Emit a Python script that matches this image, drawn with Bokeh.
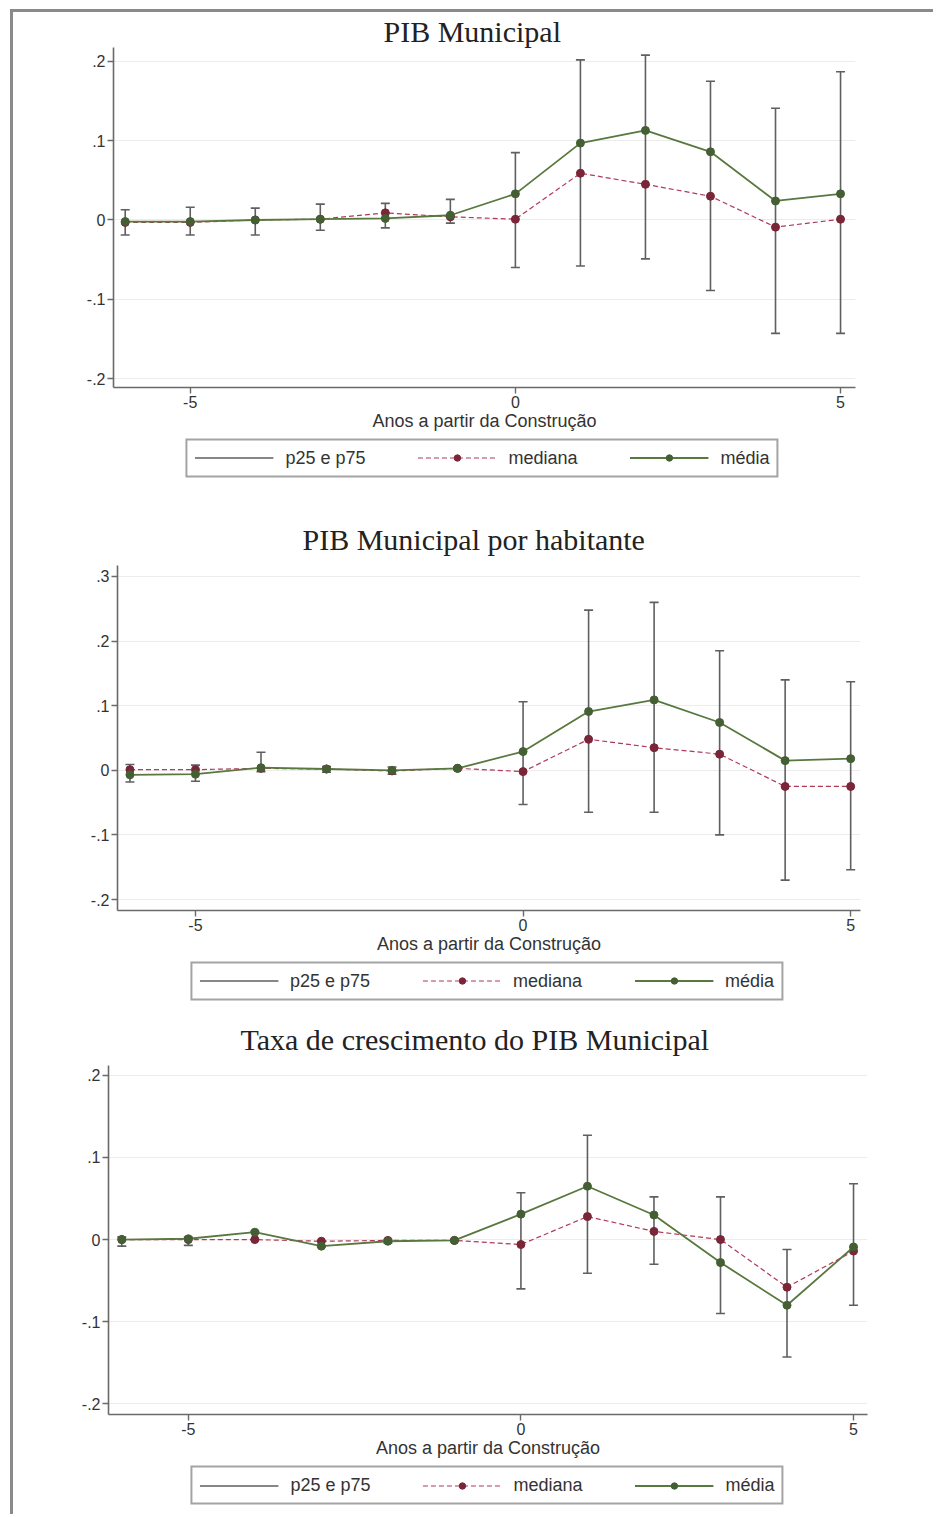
from bokeh.plotting import figure
from bokeh.layouts import column, row
from bokeh.models import (ColumnDataSource, FixedTicker, Legend, LegendItem, Title, Range1d, Spacer)
from bokeh.embed import file_html
from bokeh.resources import INLINE

years = [-6, -5, -4, -3, -2, -1, 0, 1, 2, 3, 4, 5]

titles = ["PIB Municipal", "PIB Municipal por habitante", "Taxa de crescimento do PIB Municipal"]
x_label = "Anos a partir da Construção"
legend_labels = ["p25 e p75", "mediana", "média"]
x_ticks = [-5, 0, 5]
x_tick_labels = ["-5", "0", "5"]

# Panel 1: PIB Municipal
p1_mean = [-0.002, -0.002, 0.000, 0.001, 0.002, 0.006, 0.033, 0.097, 0.113, 0.086, 0.024, 0.033]
p1_median = [-0.003, -0.003, 0.000, 0.001, 0.009, 0.004, 0.001, 0.059, 0.045, 0.030, -0.009, 0.001]
p1_p75 = [0.013, 0.016, 0.015, 0.020, 0.021, 0.026, 0.085, 0.202, 0.208, 0.175, 0.141, 0.187]
p1_p25 = [-0.019, -0.019, -0.019, -0.013, -0.010, -0.004, -0.060, -0.058, -0.049, -0.089, -0.143, -0.143]
p1_yticks = [-0.2, -0.1, 0.0, 0.1, 0.2]
p1_ylabels = ["-.2", "-.1", "0", ".1", ".2"]

# Panel 2: PIB Municipal por habitante
p2_mean = [-0.007, -0.006, 0.004, 0.002, 0.000, 0.003, 0.029, 0.091, 0.109, 0.074, 0.015, 0.018]
p2_median = [0.001, 0.001, 0.003, 0.002, -0.001, 0.003, -0.002, 0.048, 0.035, 0.025, -0.025, -0.025]
p2_p75 = [0.009, 0.008, 0.028, 0.006, 0.005, 0.005, 0.106, 0.248, 0.260, 0.185, 0.140, 0.137]
p2_p25 = [-0.018, -0.017, -0.002, -0.003, -0.006, 0.001, -0.053, -0.065, -0.065, -0.100, -0.170, -0.154]
p2_yticks = [-0.2, -0.1, 0.0, 0.1, 0.2, 0.3]
p2_ylabels = ["-.2", "-.1", "0", ".1", ".2", ".3"]

# Panel 3: Taxa de crescimento do PIB Municipal
p3_mean = [0.000, 0.001, 0.009, -0.008, -0.002, -0.001, 0.031, 0.065, 0.030, -0.028, -0.080, -0.009]
p3_median = [0.000, 0.000, 0.000, -0.002, -0.001, -0.001, -0.006, 0.028, 0.010, 0.000, -0.058, -0.014]
p3_p75 = [0.003, 0.003, 0.010, -0.002, 0.000, 0.000, 0.057, 0.127, 0.052, 0.052, -0.012, 0.068]
p3_p25 = [-0.008, -0.007, 0.000, -0.009, -0.004, -0.002, -0.060, -0.041, -0.030, -0.090, -0.143, -0.080]
p3_yticks = [-0.2, -0.1, 0.0, 0.1, 0.2]
p3_ylabels = ["-.2", "-.1", "0", ".1", ".2"]

GREEN = "#58783f"
GREEN_DOT = "#445f33"
RED = "#b03a5a"
RED_DOT = "#7a2538"
BAR = "#5f5f5f"
AXIS = "#6a6a6a"
SANS = "Liberation Sans"
SERIF = "Liberation Serif"

W = 920


def draw_series(p, src):
    bars = p.segment(x0="x", y0="p25", x1="x", y1="p75", source=src,
                     line_color=BAR, line_width=1.6)
    p.scatter(x="x", y="p25", source=src, marker="dash", size=9, line_color=BAR, line_width=1.6)
    p.scatter(x="x", y="p75", source=src, marker="dash", size=9, line_color=BAR, line_width=1.6)
    med_line = p.line(x="x", y="median", source=src, line_color=RED, line_width=1.2,
                      line_dash="5 3")
    med_pts = p.scatter(x="x", y="median", source=src, marker="circle", size=8,
                        fill_color=RED_DOT, line_color=RED_DOT)
    mean_line = p.line(x="x", y="mean", source=src, line_color=GREEN, line_width=1.8)
    mean_pts = p.scatter(x="x", y="mean", source=src, marker="circle", size=8,
                         fill_color=GREEN_DOT, line_color=GREEN_DOT)
    return bars, med_line, med_pts, mean_line, mean_pts


def make_panel(title, mean, median, p25, p75, yticks, ylabels, height, xr, yr,
               mb_top, mb_bottom, mb_left, mb_right, title_offset, title_standoff):
    p = figure(width=W, height=height, output_backend="svg", toolbar_location=None,
               x_range=Range1d(*xr), y_range=Range1d(*yr),
               min_border_top=mb_top, min_border_bottom=mb_bottom,
               min_border_left=mb_left, min_border_right=mb_right)
    p.frame_align = False
    p.title = Title(text=title, align="left", offset=title_offset, standoff=title_standoff,
                    text_font=SERIF, text_font_size="30px", text_font_style="normal",
                    text_color="#222222")
    p.outline_line_color = None
    p.background_fill_color = "white"
    p.border_fill_color = "white"

    src = ColumnDataSource(dict(x=years, mean=mean, median=median, p25=p25, p75=p75))
    draw_series(p, src)

    p.xaxis.ticker = FixedTicker(ticks=x_ticks)
    p.xaxis.major_label_overrides = {t: l for t, l in zip(x_ticks, x_tick_labels)}
    p.yaxis.ticker = FixedTicker(ticks=yticks)
    p.yaxis.major_label_overrides = {t: l for t, l in zip(yticks, ylabels)}
    for ax in (p.xaxis[0], p.yaxis[0]):
        ax.axis_line_color = AXIS
        ax.axis_line_width = 1.6
        ax.major_tick_line_color = AXIS
        ax.major_tick_line_width = 1.4
        ax.major_tick_out = 6
        ax.major_tick_in = 0
        ax.minor_tick_line_color = None
        ax.major_label_text_font = SANS
        ax.major_label_text_font_size = "16px"
        ax.major_label_text_color = "#333333"
        ax.major_label_standoff = 2
    p.yaxis.major_label_orientation = "horizontal"
    p.xaxis.axis_label = x_label
    p.xaxis.axis_label_text_font = SANS
    p.xaxis.axis_label_text_font_size = "18px"
    p.xaxis.axis_label_text_font_style = "normal"
    p.xaxis.axis_label_text_color = "#333333"
    p.xaxis.axis_label_standoff = 0

    p.xgrid.grid_line_color = None
    p.ygrid.grid_line_color = "#ececec"
    p.ygrid.grid_line_width = 1.2
    return p


def make_legend(height, mb_left, mb_top, mb_bottom):
    lf = figure(width=W, height=height, output_backend="svg", toolbar_location=None,
                x_range=Range1d(0, 1), y_range=Range1d(0, 1),
                x_axis_location=None, y_axis_location=None,
                min_border_left=mb_left, min_border_right=0,
                min_border_top=mb_top, min_border_bottom=mb_bottom)
    lf.frame_align = False
    lf.outline_line_color = None
    lf.xgrid.grid_line_color = None
    lf.ygrid.grid_line_color = None
    # off-range sample rows so the legend has glyph styles to draw; nothing shows in the frame
    offscreen = ColumnDataSource(dict(x=[-10.0, -9.0], mean=[-10.0, -9.0], median=[-10.0, -9.0],
                                      p25=[-10.0, -9.0], p75=[-9.5, -8.5]))
    bars, med_line, med_pts, mean_line, mean_pts = draw_series(lf, offscreen)
    legend = Legend(items=[
        LegendItem(label=legend_labels[0], renderers=[bars]),
        LegendItem(label=legend_labels[1], renderers=[med_line, med_pts]),
        LegendItem(label=legend_labels[2], renderers=[mean_line, mean_pts]),
    ], orientation="horizontal", location="center")
    legend.label_text_font = SANS
    legend.label_text_font_size = "18px"
    legend.label_text_color = "#333333"
    legend.glyph_width = 79
    legend.glyph_height = 16
    legend.label_standoff = 12
    legend.spacing = 52
    legend.padding = 7
    legend.margin = 0
    legend.border_line_color = "#4a4a4a"
    legend.border_line_width = 2
    legend.background_fill_color = "white"
    legend.background_fill_alpha = 1.0
    lf.add_layout(legend, "center")
    return lf


p1 = make_panel(titles[0], p1_mean, p1_median, p1_p25, p1_p75, p1_yticks, p1_ylabels,
                height=421, xr=(-6.18, 5.23), yr=(-0.2113, 0.2176),
                mb_top=35, mb_bottom=45, mb_left=100, mb_right=78,
                title_offset=270, title_standoff=0)
l1 = make_legend(57, 18, 0, 8)
p2 = make_panel(titles[1], p2_mean, p2_median, p2_p25, p2_p75, p2_yticks, p2_ylabels,
                height=466, xr=(-6.19, 5.15), yr=(-0.217, 0.317),
                mb_top=75, mb_bottom=44, mb_left=104, mb_right=73,
                title_offset=185, title_standoff=19)
l2 = make_legend(49, 27, 0, 0)
p3 = make_panel(titles[2], p3_mean, p3_median, p3_p25, p3_p75, p3_yticks, p3_ylabels,
                height=455, xr=(-6.2, 5.21), yr=(-0.213, 0.212),
                mb_top=60, mb_bottom=44, mb_left=95, mb_right=66,
                title_offset=132, title_standoff=19)
l3 = make_legend(54, 28, 0, 4)

inner = column(p1, l1, p2, l2, p3, l3, spacing=0,
               styles={"border-left": "3px solid #8a8a8a", "border-top": "3px solid #8a8a8a"})
layout = column(Spacer(height=9), row(Spacer(width=10), inner, spacing=0), spacing=0)

open("out.html", "w").write(file_html(layout, INLINE))
